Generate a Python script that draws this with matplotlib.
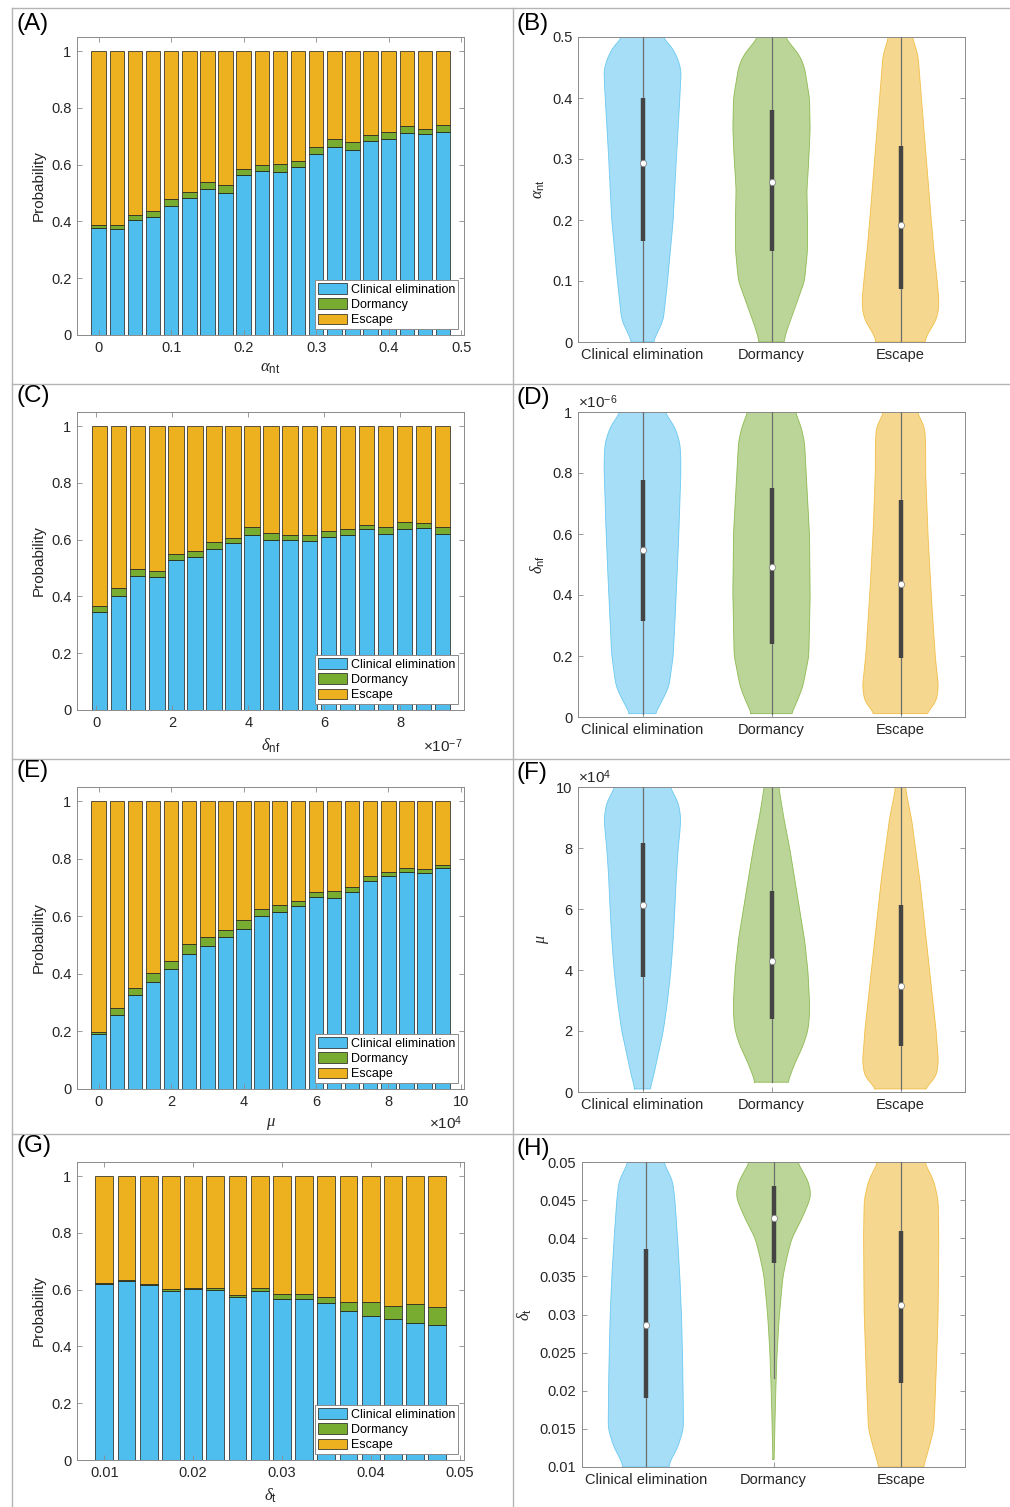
import numpy as np
import matplotlib
matplotlib.use("Agg")
import matplotlib.pyplot as plt
from matplotlib.patches import Patch
from matplotlib.lines import Line2D
from matplotlib.ticker import FuncFormatter

plt.rcParams['font.family'] = ['Liberation Sans', 'DejaVu Sans']
plt.rcParams['mathtext.fontset'] = 'custom'
plt.rcParams['mathtext.rm'] = 'Liberation Sans'
plt.rcParams['mathtext.it'] = 'Liberation Serif:italic'
plt.rcParams['mathtext.bf'] = 'Liberation Sans:bold'

outcomes = ['Clinical elimination', 'Dormancy', 'Escape']
c_blue, c_green, c_orange = '#4DBEEE', '#77AC30', '#EDB120'

# ---- stacked bar data (probabilities) ----
a_x = [0, 0.025, 0.05, 0.075, 0.1, 0.125, 0.15, 0.175, 0.2, 0.225,
       0.25, 0.275, 0.3, 0.325, 0.35, 0.375, 0.4, 0.425, 0.45, 0.475]
a_clin = [0.378, 0.372, 0.404, 0.415, 0.454, 0.481, 0.515, 0.499, 0.563, 0.577,
          0.576, 0.593, 0.637, 0.662, 0.653, 0.683, 0.690, 0.711, 0.707, 0.716]
a_dorm = [0.009, 0.017, 0.020, 0.023, 0.024, 0.022, 0.023, 0.029, 0.022, 0.022,
          0.027, 0.019, 0.026, 0.029, 0.027, 0.021, 0.024, 0.025, 0.019, 0.025]

# delta_nf in units of 1e-7
c_x = [0.1, 0.6, 1.1, 1.6, 2.1, 2.6, 3.1, 3.6, 4.1, 4.6,
       5.1, 5.6, 6.1, 6.6, 7.1, 7.6, 8.1, 8.6, 9.1]
c_clin = [0.347, 0.400, 0.472, 0.467, 0.528, 0.538, 0.568, 0.588, 0.618, 0.600,
          0.599, 0.595, 0.611, 0.617, 0.637, 0.620, 0.637, 0.640, 0.620]
c_dorm = [0.021, 0.031, 0.024, 0.022, 0.022, 0.021, 0.023, 0.017, 0.027, 0.022,
          0.019, 0.023, 0.019, 0.021, 0.014, 0.025, 0.026, 0.018, 0.024]

# mu in units of 1e4
e_x = [0, 0.5, 1, 1.5, 2, 2.5, 3, 3.5, 4, 4.5,
       5, 5.5, 6, 6.5, 7, 7.5, 8, 8.5, 9, 9.5]
e_clin = [0.191, 0.257, 0.326, 0.372, 0.417, 0.470, 0.498, 0.527, 0.557, 0.601,
          0.615, 0.635, 0.667, 0.664, 0.684, 0.723, 0.740, 0.754, 0.751, 0.767]
e_dorm = [0.007, 0.025, 0.024, 0.030, 0.027, 0.033, 0.029, 0.026, 0.030, 0.025,
          0.023, 0.019, 0.018, 0.024, 0.018, 0.016, 0.013, 0.014, 0.014, 0.012]

g_x = [0.01, 0.0125, 0.015, 0.0175, 0.02, 0.0225, 0.025, 0.0275,
       0.03, 0.0325, 0.035, 0.0375, 0.04, 0.0425, 0.045, 0.0475]
g_clin = [0.619, 0.631, 0.617, 0.597, 0.604, 0.600, 0.573, 0.594,
          0.568, 0.568, 0.552, 0.526, 0.509, 0.496, 0.484, 0.474]
g_dorm = [0.003, 0.002, 0.002, 0.006, 0.003, 0.005, 0.010, 0.013,
          0.017, 0.017, 0.021, 0.032, 0.047, 0.046, 0.066, 0.064]

# ---- violin data: outline levels and relative half widths, quartiles, whiskers ----
b_levels = [[0, 0.036, 0.1, 0.2, 0.3, 0.4, 0.446, 0.47, 0.49, 0.5],
            [0, 0.02, 0.04, 0.07, 0.1, 0.15, 0.2, 0.25, 0.3, 0.35, 0.4, 0.45, 0.47, 0.5],
            [0, 0.015, 0.03, 0.05, 0.07, 0.1, 0.15, 0.2, 0.3, 0.4, 0.45, 0.47, 0.5]]
b_widths = [[32, 63, 76, 93, 102, 113, 117, 103, 80, 58],
            [37, 47, 60, 80, 100, 109, 109, 107, 113, 117, 115, 100, 85, 40],
            [73, 83, 103, 115, 116, 111, 101, 93, 78, 63, 56, 53, 36]]
b_q1 = [0.166, 0.150, 0.087]
b_med = [0.293, 0.263, 0.191]
b_q3 = [0.400, 0.380, 0.322]
b_whisk = [(0, 0.5), (0, 0.5), (0, 0.5)]

# delta_nf in units of 1e-6
d_levels = [[0.011, 0.05, 0.1, 0.2, 0.4, 0.6, 0.8, 0.85, 0.9, 0.95, 1.0],
            [0.011, 0.05, 0.1, 0.2, 0.4, 0.6, 0.8, 0.9, 0.95, 1.0],
            [0.011, 0.05, 0.1, 0.2, 0.4, 0.6, 0.8, 0.9, 0.95, 1.0]]
d_widths = [[38, 58, 80, 93, 102, 110, 116, 116, 113, 98, 67],
            [60, 77, 95, 113, 117, 115, 105, 100, 90, 72],
            [78, 108, 115, 105, 93, 83, 76, 76, 73, 50]]
d_q1 = [0.314, 0.239, 0.192]
d_med = [0.549, 0.491, 0.437]
d_q3 = [0.778, 0.751, 0.710]
d_whisk = [(0.011, 1.0), (0.011, 1.0), (0.011, 1.0)]

# mu in units of 1e4
f_levels = [[0.1, 0.5, 1, 2, 3, 4, 5, 6, 7, 8, 8.5, 9, 9.5, 10],
            [0.32, 0.5, 1, 1.5, 2, 2.5, 3, 4, 5, 6, 7, 8, 9, 10],
            [0.1, 0.5, 1, 1.5, 2, 3, 4, 5, 6, 7, 8, 9, 9.5, 10]]
f_widths = [[23, 33, 43, 63, 76, 86, 93, 98, 102, 108, 113, 116, 108, 83],
            [50, 55, 73, 95, 110, 115, 115, 110, 100, 85, 70, 55, 37, 22],
            [73, 108, 115, 111, 108, 98, 88, 78, 68, 58, 45, 33, 23, 15]]
f_q1 = [3.77, 2.39, 1.52]
f_med = [6.12, 4.28, 3.46]
f_q3 = [8.16, 6.58, 6.12]
f_whisk = [(0.1, 10), (0.32, 10), (0.1, 10)]

h_levels = [[0.01, 0.011, 0.0125, 0.015, 0.02, 0.025, 0.03, 0.035, 0.04, 0.045, 0.0475, 0.05],
            [0.011, 0.015, 0.02, 0.025, 0.03, 0.035, 0.0375, 0.04, 0.0425, 0.045, 0.046, 0.0475, 0.05],
            [0.01, 0.0125, 0.015, 0.02, 0.03, 0.04, 0.045, 0.0475, 0.05]]
h_widths = [[69, 77, 97, 115, 114, 112, 109, 104, 97, 89, 82, 54],
            [2, 4, 7, 11, 18, 29, 41, 56, 86, 111, 114, 106, 73],
            [68, 85, 100, 105, 113, 115, 113, 100, 71]]
h_q1 = [0.0191, 0.0368, 0.0210]
h_med = [0.0286, 0.0427, 0.0312]
h_q3 = [0.0386, 0.0468, 0.0409]
h_whisk = [(0.01, 0.05), (0.0217, 0.05), (0.01, 0.05)]

W, H = 1010, 1507
fig = plt.figure(figsize=(W / 100, H / 100), dpi=100)


def px_axes(l, t, r, b):
    return fig.add_axes([l / W, 1 - b / H, (r - l) / W, (b - t) / H])


gfmt = FuncFormatter(lambda v, p: '%g' % round(v, 6))


def style(ax):
    for s in ax.spines.values():
        s.set_color('#8a8a8a')
        s.set_linewidth(0.7)
    ax.tick_params(direction='in', top=True, right=True, length=3.5, width=0.6,
                   color='#8a8a8a', labelcolor='#262626', labelsize=10.5, pad=4)


def stacked(ax, x, clin, dorm, width, xlim, xticks, xlabel):
    x = np.array(x)
    clin = np.array(clin)
    dorm = np.array(dorm)
    esc = 1 - clin - dorm
    kw = dict(width=width, edgecolor='#1a1a1a', linewidth=0.5)
    ax.bar(x, clin, color=c_blue, **kw)
    ax.bar(x, dorm, bottom=clin, color=c_green, **kw)
    ax.bar(x, esc, bottom=clin + dorm, color=c_orange, **kw)
    ax.set_xlim(*xlim)
    ax.set_ylim(0, 1.05)
    ax.set_xticks(xticks)
    ax.set_yticks([0, 0.2, 0.4, 0.6, 0.8, 1])
    ax.xaxis.set_major_formatter(gfmt)
    ax.yaxis.set_major_formatter(gfmt)
    ax.set_ylabel('Probability', fontsize=11, color='#262626', labelpad=4)
    ax.set_xlabel(xlabel, fontsize=12, color='#262626', labelpad=5)
    style(ax)
    handles = [Patch(facecolor=c, edgecolor='#1a1a1a', linewidth=0.5)
               for c in (c_blue, c_green, c_orange)]
    leg = ax.legend(handles, outcomes, loc='lower right', fontsize=9,
                    handlelength=2.3, handleheight=0.95, handletextpad=0.3,
                    labelspacing=0.2, borderpad=0.25, borderaxespad=0.45,
                    fancybox=False, framealpha=1)
    leg.get_frame().set_edgecolor('#8a8a8a')
    leg.get_frame().set_linewidth(0.7)


def smooth(a, n=9):
    pad = np.concatenate([np.repeat(a[0], n), a, np.repeat(a[-1], n)])
    k = np.ones(2 * n + 1) / (2 * n + 1)
    return np.convolve(pad, k, mode='same')[n:-n]


def violins(ax, levels, widths, q1, med, q3, whisk, ylim, yticks, ylabel):
    colors = [c_blue, c_green, c_orange]
    for i in range(3):
        pos = i + 1
        ys = np.array(levels[i], dtype=float)
        ws = np.array(widths[i], dtype=float) / 117 * 0.3
        yy = np.linspace(ys[0], ys[-1], 400)
        ww = smooth(np.interp(yy, ys, ws), 8)
        ax.fill_betweenx(yy, pos - ww, pos + ww, facecolor=colors[i], alpha=0.5,
                         edgecolor='none', zorder=1)
        xs = np.concatenate([pos - ww, (pos + ww)[::-1], [pos - ww[0]]])
        yo = np.concatenate([yy, yy[::-1], [yy[0]]])
        ax.plot(xs, yo, color=colors[i], alpha=0.75, lw=0.6, zorder=2)
        ax.plot([pos, pos], whisk[i], color='#6e6e6e', lw=0.9, zorder=3)
        ax.plot([pos, pos], [q1[i], q3[i]], color='#444444', lw=3.2,
                solid_capstyle='butt', zorder=4)
        ax.plot(pos, med[i], 'o', ms=4.5, mfc='white', mec='#888888', mew=0.6, zorder=5)
    ax.set_xlim(0.5, 3.5)
    ax.set_ylim(*ylim)
    ax.set_xticks([1, 2, 3])
    ax.set_xticklabels(outcomes)
    ax.set_yticks(yticks)
    ax.yaxis.set_major_formatter(gfmt)
    ax.set_ylabel(ylabel, fontsize=11.5, color='#262626', labelpad=4)
    style(ax)


# bar panels
axA = px_axes(77, 37, 464, 335)
stacked(axA, a_x, a_clin, a_dorm, 0.02, (-0.03, 0.504),
        [0, 0.1, 0.2, 0.3, 0.4, 0.5], r'$\alpha_{\mathrm{nt}}$')
axC = px_axes(77, 412, 464, 710)
stacked(axC, c_x, c_clin, c_dorm, 0.4, (-0.5, 9.67),
        [0, 2, 4, 6, 8], r'$\delta_{\mathrm{nf}}$')
axE = px_axes(77, 787, 464, 1089)
stacked(axE, e_x, e_clin, e_dorm, 0.4, (-0.6, 10.09),
        [0, 2, 4, 6, 8, 10], r'$\mu$')
axG = px_axes(77, 1162, 464, 1460)
stacked(axG, g_x, g_clin, g_dorm, 0.002, (0.00693, 0.0505),
        [0.01, 0.02, 0.03, 0.04, 0.05], r'$\delta_{\mathrm{t}}$')

# violin panels
axB = px_axes(578, 37, 965, 342)
violins(axB, b_levels, b_widths, b_q1, b_med, b_q3, b_whisk, (0, 0.5),
        [0, 0.1, 0.2, 0.3, 0.4, 0.5], r'$\alpha_{\mathrm{nt}}$')
axD = px_axes(578, 412, 965, 717)
violins(axD, d_levels, d_widths, d_q1, d_med, d_q3, d_whisk, (0, 1),
        [0, 0.2, 0.4, 0.6, 0.8, 1], r'$\delta_{\mathrm{nf}}$')
axF = px_axes(578, 787, 965, 1092)
violins(axF, f_levels, f_widths, f_q1, f_med, f_q3, f_whisk, (0, 10),
        [0, 2, 4, 6, 8, 10], r'$\mu$')
axH = px_axes(582, 1162, 965, 1467)
violins(axH, h_levels, h_widths, h_q1, h_med, h_q3, h_whisk, (0.01, 0.05),
        [0.01, 0.015, 0.02, 0.025, 0.03, 0.035, 0.04, 0.045, 0.05], r'$\delta_{\mathrm{t}}$')

# exponent labels
fig.text(463 / W, 1 - 746 / H, r'$\times 10^{-7}$', ha='right', va='center',
         fontsize=11, color='#262626')
fig.text(463 / W, 1 - 1123 / H, r'$\times 10^{4}$', ha='right', va='center',
         fontsize=11, color='#262626')
fig.text(578 / W, 1 - 402 / H, r'$\times 10^{-6}$', ha='left', va='center',
         fontsize=11, color='#262626')
fig.text(578 / W, 1 - 777 / H, r'$\times 10^{4}$', ha='left', va='center',
         fontsize=11, color='#262626')

# panel letters
for lab, x, y in [('(A)', 16, 24), ('(C)', 16, 396), ('(E)', 16, 771), ('(G)', 16, 1146),
                  ('(B)', 516, 24), ('(D)', 516, 398), ('(F)', 516, 773), ('(H)', 516, 1149)]:
    fig.text(x / W, 1 - y / H, lab, fontsize=17.5, ha='left', va='center', color='black')

# separator lines
lc = '#b4b4b4'
fig.add_artist(Line2D([11.5 / W, 11.5 / W], [1 - 8 / H, 0], color=lc, lw=1))
fig.add_artist(Line2D([512.5 / W, 512.5 / W], [1 - 8 / H, 0], color=lc, lw=1))
for y in [8, 384, 759, 1134]:
    fig.add_artist(Line2D([11.5 / W, 1], [1 - y / H, 1 - y / H], color=lc, lw=1))

fig.savefig('out.png', dpi=100)
